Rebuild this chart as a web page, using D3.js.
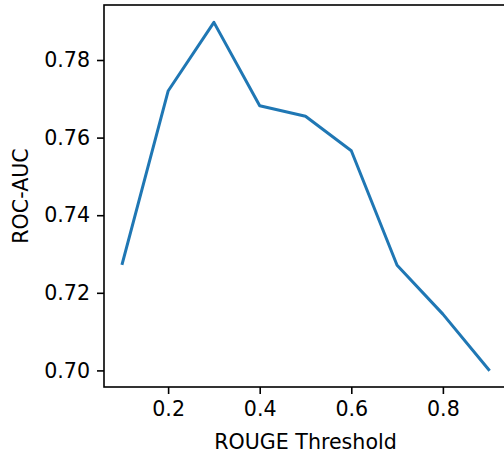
<!DOCTYPE html>
<html>
<head>
<meta charset="utf-8">
<script src="https://cdn.jsdelivr.net/npm/d3@7"></script>
<style>
  html, body { margin: 0; padding: 0; background: #fff; }
  svg { display: block; }
  svg text { font-family: "DejaVu Sans", sans-serif; }
</style>
</head>
<body>
<div id="chart"></div>
<script>
// ROC-AUC vs ROUGE threshold
const thresholds = [0.1, 0.2, 0.3, 0.4, 0.5, 0.6, 0.7, 0.8, 0.9];
const rocAuc = [0.7276, 0.7720, 0.7897, 0.7682, 0.7655, 0.7566, 0.7271, 0.7145, 0.7002];
const xTicks = [0.2, 0.4, 0.6, 0.8];
const yTicks = [0.70, 0.72, 0.74, 0.76, 0.78];

const W = 504, H = 457;
const FS = 20.6;
const margin = { top: 5, right: -3, bottom: 70, left: 104 };
const w = W - margin.left - margin.right;
const h = H - margin.top - margin.bottom;

const svg = d3.select("#chart").append("svg")
  .attr("width", W).attr("height", H);

const g = svg.append("g").attr("transform", `translate(${margin.left},${margin.top})`);

// matplotlib-style 5% padding around the data
const xPad = (d3.max(thresholds) - d3.min(thresholds)) * 0.05;
const yPad = (d3.max(rocAuc) - d3.min(rocAuc)) * 0.05;
const x = d3.scaleLinear().domain([d3.min(thresholds) - xPad, d3.max(thresholds) + xPad]).range([0, w]);
const y = d3.scaleLinear().domain([d3.min(rocAuc) - yPad, d3.max(rocAuc) + yPad]).range([h, 0]);

const line = d3.line().x((d, i) => x(thresholds[i])).y(d => y(d));
g.append("path")
  .datum(rocAuc)
  .attr("d", line)
  .attr("fill", "none")
  .attr("stroke", "#1f77b4")
  .attr("stroke-width", 3)
  .attr("stroke-linejoin", "round")
  .attr("stroke-linecap", "square");

// Axes
function styleAxis(a) {
  a.attr("font-family", "DejaVu Sans").attr("font-size", FS);
  a.select(".domain").remove();
  a.selectAll("line").attr("stroke", "#000").attr("stroke-width", 1.6);
  a.selectAll("text").attr("fill", "#000");
}

g.append("g").attr("transform", `translate(0,${h})`)
  .call(d3.axisBottom(x).tickValues(xTicks).tickFormat(d3.format(".1f")).tickSize(7).tickPadding(7))
  .call(styleAxis);

g.append("g")
  .call(d3.axisLeft(y).tickValues(yTicks).tickFormat(d3.format(".2f")).tickSize(7).tickPadding(7))
  .call(styleAxis);

// Frame
g.append("rect")
  .attr("x", 0).attr("y", 0).attr("width", w).attr("height", h)
  .attr("fill", "none").attr("stroke", "#000").attr("stroke-width", 1.6);

// Axis labels
g.append("text")
  .attr("x", w / 2).attr("y", h + 62)
  .attr("text-anchor", "middle")
  .attr("font-size", FS).attr("fill", "#000")
  .text("ROUGE Threshold");

g.append("text")
  .attr("transform", `translate(${-76},${h / 2}) rotate(-90)`)
  .attr("text-anchor", "middle")
  .attr("font-size", FS).attr("fill", "#000")
  .text("ROC-AUC");
</script>
</body>
</html>
